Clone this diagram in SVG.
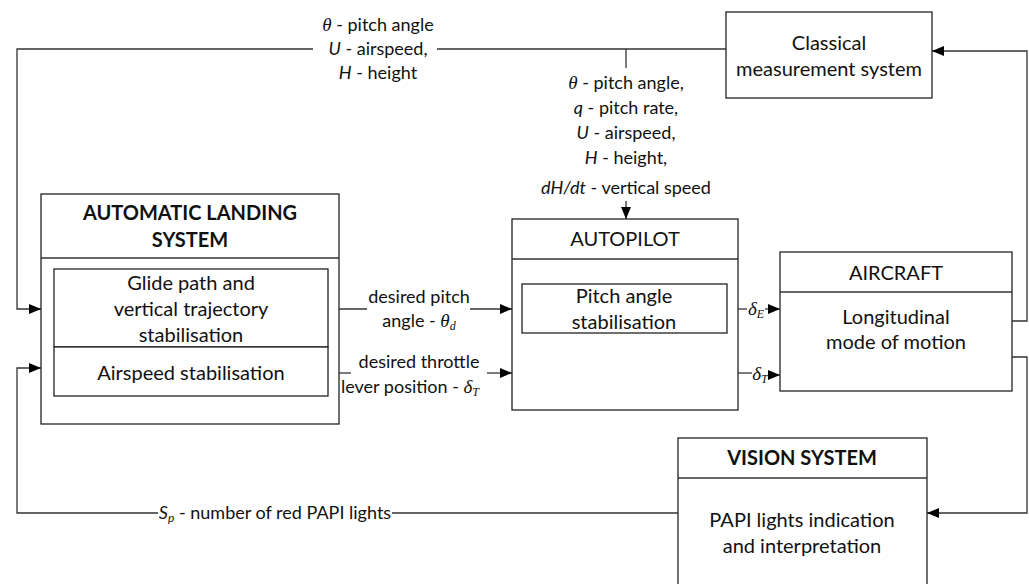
<svg xmlns="http://www.w3.org/2000/svg" width="1029" height="584" viewBox="0 0 1029 584">
<defs>
<marker id="ah" markerWidth="12" markerHeight="10" refX="12" refY="5" orient="auto" markerUnits="userSpaceOnUse">
<path d="M0,0 L12,5 L0,10 Z" fill="#000"/>
</marker>
<style>
.box{fill:#fff;stroke:#222;stroke-width:1.3}
.ln{fill:none;stroke:#333;stroke-width:1.3}
.t{font-family:Lato,"Open Sans","Liberation Sans",sans-serif;font-size:20px;fill:#111;text-anchor:middle}
.b{font-weight:bold}
.s{font-family:Lato,"Open Sans","Liberation Sans",sans-serif;font-size:18px;fill:#111;text-anchor:middle}
.m{font-family:"Liberation Serif","DejaVu Serif",serif;font-style:italic;font-size:19px}
.i{font-style:italic}
.sub{font-size:12px}
</style>
</defs>
<rect width="1029" height="584" fill="#fff"/>

<g id="connectors">
<path class="ln" d="M726,49 L437,49"/>
<path class="ln" d="M313,49 L17,49 L17,309 L41,309" marker-end="url(#ah)"/>
<path class="ln" d="M626,49 L626,68"/>
<path class="ln" d="M626,201 L626,219" marker-end="url(#ah)"/>
<path class="ln" d="M328,309 L367,309"/>
<path class="ln" d="M470,309 L512,309" marker-end="url(#ah)"/>
<path class="ln" d="M328,373 L351,373"/>
<path class="ln" d="M487,373 L512,373" marker-end="url(#ah)"/>
<path d="M512,373 L738,373" fill="none" stroke="#555" stroke-width="1" stroke-dasharray="6,3,2,3"/>
<circle cx="518" cy="309" r="1" fill="#000"/>
<path class="ln" d="M727,309 L747,309"/>
<path class="ln" d="M765,309 L780,309" marker-end="url(#ah)"/>
<path class="ln" d="M738,373 L752,373"/>
<path class="ln" d="M768,375 L780,375" marker-end="url(#ah)"/>
<path class="ln" d="M1012,321 L1027,321 L1027,51 L932,51" marker-end="url(#ah)"/>
<path class="ln" d="M1012,357 L1027,357 L1027,513 L927,513" marker-end="url(#ah)"/>
<path class="ln" d="M678,513 L392,513"/>
<path class="ln" d="M158,513 L17,513 L17,368 L41,368" marker-end="url(#ah)"/>
</g>

<g id="labels">
<text class="s" x="378" y="31"><tspan class="m">θ</tspan> - pitch angle</text>
<text class="s" x="378" y="55"><tspan class="i">U</tspan> - airspeed,</text>
<text class="s" x="378" y="79"><tspan class="i">H</tspan> - height</text>

<text class="s" x="626" y="89"><tspan class="m">θ</tspan> - pitch angle,</text>
<text class="s" x="626" y="114"><tspan class="i">q</tspan> - pitch rate,</text>
<text class="s" x="626" y="139"><tspan class="i">U</tspan> - airspeed,</text>
<text class="s" x="626" y="164"><tspan class="i">H</tspan> - height,</text>
<text class="s" x="626" y="194"><tspan class="i">dH/dt</tspan> - vertical speed</text>

<text class="s" x="419" y="303">desired pitch</text>
<text class="s" x="419" y="327">angle - <tspan class="m">θ</tspan><tspan class="m sub" dy="3">d</tspan></text>
<text class="s" x="419" y="368">desired throttle</text>
<text class="s" x="410" y="393">lever position - <tspan class="m">δ</tspan><tspan class="m sub" dy="3">T</tspan></text>

<text class="s" x="756" y="315"><tspan class="m">δ</tspan><tspan class="m sub" dy="3">E</tspan></text>
<text class="s" x="760" y="380"><tspan class="m">δ</tspan><tspan class="m sub" dy="3">T</tspan></text>

<text class="s" x="275" y="519"><tspan class="i">S</tspan><tspan class="i sub" dy="3">p</tspan><tspan dy="-3"> - number of red PAPI lights</tspan></text>
</g>

<g id="classical">
<rect class="box" x="726" y="12" width="206" height="86"/>
<text class="t" x="829" y="50">Classical</text>
<text class="t" x="829" y="76">measurement system</text>
</g>

<g id="als">
<rect class="box" x="41" y="194" width="298" height="230"/>
<line class="ln" x1="41" y1="258" x2="339" y2="258"/>
<text class="t b" x="190" y="220">AUTOMATIC LANDING</text>
<text class="t b" x="190" y="247">SYSTEM</text>
<g id="glide">
<rect class="box" x="54" y="269" width="274" height="78"/>
<text class="t" x="191" y="290">Glide path and</text>
<text class="t" x="191" y="316">vertical trajectory</text>
<text class="t" x="191" y="342">stabilisation</text>
</g>
<g id="airspeed">
<rect class="box" x="54" y="347" width="274" height="49"/>
<text class="t" x="191" y="380">Airspeed stabilisation</text>
</g>
</g>

<g id="autopilot">
<rect class="box" x="512" y="219" width="226" height="191"/>
<line class="ln" x1="512" y1="259" x2="738" y2="259"/>
<text class="t" x="625" y="246">AUTOPILOT</text>
<g id="pitch">
<rect class="box" x="522" y="284" width="205" height="49"/>
<text class="t" x="624" y="303">Pitch angle</text>
<text class="t" x="624" y="329">stabilisation</text>
</g>
</g>

<g id="aircraft">
<rect class="box" x="780" y="252" width="232" height="139"/>
<line class="ln" x1="780" y1="292" x2="1012" y2="292"/>
<text class="t" x="896" y="280">AIRCRAFT</text>
<text class="t" x="896" y="324">Longitudinal</text>
<text class="t" x="896" y="349">mode of motion</text>
</g>

<g id="vision">
<rect class="box" x="678" y="438" width="249" height="160"/>
<line class="ln" x1="678" y1="478" x2="927" y2="478"/>
<text class="t b" x="802" y="465">VISION SYSTEM</text>
<text class="t" x="802" y="527">PAPI lights indication</text>
<text class="t" x="802" y="553">and interpretation</text>
</g>
</svg>
